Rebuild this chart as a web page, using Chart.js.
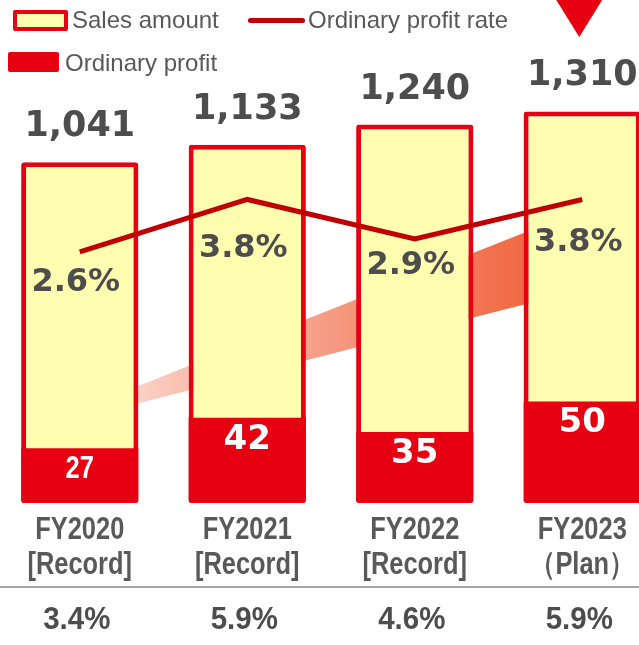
<!DOCTYPE html>
<html>
<head>
<meta charset="utf-8">
<script src="https://cdn.jsdelivr.net/npm/chart.js@4.4.0/dist/chart.umd.min.js"></script>
<style>
  html, body { margin: 0; padding: 0; background: #fff; overflow: hidden; }
  #wrap { position: relative; width: 639px; height: 645px; overflow: hidden; }
  #salesChart { position: absolute; left: -4px; top: 0; }
  .lg { position: absolute; font-family: "Liberation Sans", Arial, sans-serif; font-size: 24px; color: #595959; line-height: 24px; white-space: nowrap; }
  .sw { position: absolute; box-sizing: border-box; }
</style>
</head>
<body>
<div id="wrap">
  <canvas id="salesChart" width="670" height="645"></canvas>
  <!-- Legend -->
  <div class="sw" style="left:13px;top:10px;width:55px;height:21px;background:#fffdaf;border:4px solid #e60012;border-radius:2px;"></div>
  <div class="lg" style="left:72px;top:8px;">Sales amount</div>
  <div class="sw" style="left:248px;top:18px;width:57px;height:5px;background:#c00000;border-radius:3px;"></div>
  <div class="lg" style="left:308px;top:8px;">Ordinary profit rate</div>
  <div class="sw" style="left:8px;top:52px;width:51px;height:20px;background:#e60012;border-radius:2px;"></div>
  <div class="lg" style="left:65px;top:51px;">Ordinary profit</div>
</div>
<script>
// Data
const years = [['FY2020', '[Record]'], ['FY2021', '[Record]'], ['FY2022', '[Record]'], ['FY2023', '（Plan）']];
const salesAmount = [1041, 1133, 1240, 1310];
const ordinaryProfit = [27, 42, 35, 50];
const profitRate = [2.6, 3.8, 2.9, 3.8];
const lowerRates = [3.4, 5.9, 4.6, 5.9];

const RED = '#e60012';
const YELLOW = '#fffdaf';
const LINE_RED = '#c00000';
const TEXT = '#4d4d4d';
const ARIAL = "'Liberation Sans', Arial, sans-serif";

// Arial Narrow look: squeeze bold Arial horizontally
function narrowText(ctx, text, x, y, sx) {
  ctx.save();
  ctx.translate(x, y);
  ctx.scale(sx, 1);
  ctx.fillText(text, 0, 0);
  ctx.restore();
}

// Labels, arrow, triangle, category names and bottom row
const annotate = {
  id: 'annotate',
  beforeDatasetsDraw(chart) {
    const { ctx } = chart;
    const xs = chart.scales.x;
    const tipX = xs.getPixelForValue(0) - 65;
    const endX = xs.getPixelForValue(3) - 21;
    const g = ctx.createLinearGradient(tipX, 0, endX, 0);
    g.addColorStop(0, 'rgba(240,95,55,0)');
    g.addColorStop(0.3, 'rgba(240,95,55,0.38)');
    g.addColorStop(1, 'rgba(240,95,55,1)');
    ctx.save();
    ctx.fillStyle = g;
    ctx.beginPath();
    ctx.moveTo(tipX, 435);
    ctx.lineTo(endX, 218);
    ctx.lineTo(endX, 295);
    ctx.closePath();
    ctx.fill();
    ctx.restore();
  },
  afterDatasetsDraw(chart) {
    const { ctx } = chart;
    ctx.save();
    ctx.textAlign = 'center';

    // sales amount above bars
    ctx.fillStyle = TEXT;
    ctx.font = "bold 35px 'DejaVu Sans', sans-serif";
    ctx.textBaseline = 'alphabetic';
    chart.getDatasetMeta(0).data.forEach((bar, i) => {
      ctx.fillText(salesAmount[i].toLocaleString('en-US'), bar.x, bar.y - 26);
    });

    // ordinary profit inside red bars
    ctx.fillStyle = '#fff';
    ctx.textBaseline = 'middle';
    chart.getDatasetMeta(1).data.forEach((bar, i) => {
      if (i === 0) {
        ctx.font = 'bold 31px ' + ARIAL;
        narrowText(ctx, String(ordinaryProfit[i]), bar.x, bar.y + 21, 0.82);
      } else {
        ctx.font = "bold 34px 'DejaVu Sans', sans-serif";
        ctx.fillText(String(ordinaryProfit[i]), bar.x, bar.y + 22);
      }
    });

    // profit rate labels
    const dy = [31, 49, 27, 43];
    ctx.fillStyle = TEXT;
    ctx.font = "bold 32px 'DejaVu Sans', sans-serif";
    chart.getDatasetMeta(2).data.forEach((pt, i) => {
      ctx.fillText(profitRate[i].toFixed(1) + '%', pt.x - 4, pt.y + dy[i]);
    });
    ctx.restore();
  },
  afterDraw(chart) {
    const { ctx } = chart;
    const xs = chart.scales.x;
    ctx.save();
    // marker triangle above the plan year
    const tx = xs.getPixelForValue(3) - 3;
    ctx.fillStyle = RED;
    ctx.beginPath();
    ctx.moveTo(tx - 23, 0);
    ctx.lineTo(tx + 23, 0);
    ctx.lineTo(tx, 37);
    ctx.closePath();
    ctx.fill();

    // category names
    ctx.fillStyle = '#595959';
    ctx.font = 'bold 31px ' + ARIAL;
    ctx.textAlign = 'center';
    ctx.textBaseline = 'middle';
    years.forEach((lines, i) => {
      const x = xs.getPixelForValue(i);
      narrowText(ctx, lines[0], x, 530, 0.82);
      narrowText(ctx, lines[1], x, 565, 0.82);
    });

    // separator and lower row
    ctx.strokeStyle = '#a6a6a6';
    ctx.lineWidth = 2;
    ctx.beginPath();
    ctx.moveTo(0, 587);
    ctx.lineTo(chart.width, 587);
    ctx.stroke();

    ctx.fillStyle = TEXT;
    ctx.font = 'bold 31px ' + ARIAL;
    lowerRates.forEach((v, i) => {
      narrowText(ctx, v.toFixed(1) + '%', xs.getPixelForValue(i) - 3, 620, 0.95);
    });
    ctx.restore();
  }
};

const ctx = document.getElementById('salesChart').getContext('2d');

new Chart(ctx, {
  type: 'bar',
  data: {
    labels: years,
    datasets: [
      {
        label: 'Sales amount',
        data: salesAmount,
        yAxisID: 'ySales',
        base: -764,
        backgroundColor: YELLOW,
        borderColor: RED,
        borderWidth: 5,
        borderRadius: 3,
        borderSkipped: false,
        grouped: false,
        barPercentage: 0.7,
        categoryPercentage: 1,
        order: 3
      },
      {
        label: 'Ordinary profit',
        data: ordinaryProfit,
        yAxisID: 'yProfit',
        backgroundColor: RED,
        borderWidth: 0,
        borderRadius: { topLeft: 0, topRight: 0, bottomLeft: 3, bottomRight: 3 },
        borderSkipped: false,
        grouped: false,
        barPercentage: 0.7,
        categoryPercentage: 1,
        order: 2
      },
      {
        type: 'line',
        label: 'Ordinary profit rate',
        data: profitRate,
        yAxisID: 'yRate',
        borderColor: LINE_RED,
        borderWidth: 5,
        pointRadius: 0,
        tension: 0,
        order: 1
      }
    ]
  },
  options: {
    responsive: false,
    animation: false,
    layout: { padding: { top: 0, left: 0, right: 0, bottom: 142 } },
    plugins: {
      legend: { display: false },
      tooltip: { enabled: false }
    },
    scales: {
      x: { display: false },
      ySales: { display: false, min: -764, max: 1900 },
      yProfit: { display: false, min: 0, max: 248 },
      yRate: { display: false, min: -3.14, max: 8.36 }
    }
  },
  plugins: [annotate]
});
</script>
</body>
</html>
